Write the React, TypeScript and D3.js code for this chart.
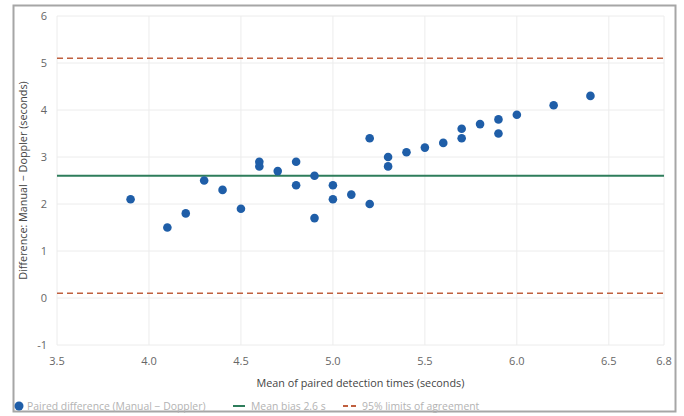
import React from 'react';
import * as d3 from 'd3';

// Bland-Altman: manual vs doppler detection times
const meanTimes = [3.9, 4.1, 4.2, 4.3, 4.4, 4.5, 4.6, 4.6, 4.7, 4.8, 4.8, 4.9, 4.9, 5.0, 5.0, 5.1, 5.2, 5.2, 5.3, 5.3, 5.4, 5.5, 5.6, 5.7, 5.7, 5.8, 5.9, 5.9, 6.0, 6.2, 6.4];
const differences = [2.1, 1.5, 1.8, 2.5, 2.3, 1.9, 2.9, 2.8, 2.7, 2.9, 2.4, 2.6, 1.7, 2.4, 2.1, 2.2, 3.4, 2.0, 3.0, 2.8, 3.1, 3.2, 3.3, 3.6, 3.4, 3.7, 3.8, 3.5, 3.9, 4.1, 4.3];
const meanBias = 2.6;
const limits = [0.1, 5.1];
const xTicks = [3.5, 4.0, 4.5, 5.0, 5.5, 6.0, 6.5, 6.8];
const yTicks = [-1, 0, 1, 2, 3, 4, 5, 6];

const W = 684;
const H = 416;
const font = '"Open Sans", "Noto Sans", sans-serif';

export default function App() {
  const x = d3.scaleLinear().domain([3.5, 6.8]).range([57, 664]);
  const y = d3.scaleLinear().domain([-1, 6]).range([345, 16]);

  return (
    <svg width={W} height={H} style={{ position: 'absolute', left: 0, top: 0 }} fontFamily={font}>
      <rect x={0} y={0} width={W} height={H} fill="#fff" />
      <rect x={13.5} y={5.5} width={662} height={406} fill="none" stroke="#a6a6a6" strokeWidth={2} />

      {/* grid */}
      {xTicks.map(t => (
        <line key={'gx' + t} x1={x(t)} x2={x(t)} y1={y(6)} y2={y(-1)} stroke="#ececec" />
      ))}
      {yTicks.map(t => (
        <line key={'gy' + t} x1={x(3.5)} x2={x(6.8)} y1={y(t)} y2={y(t)} stroke="#ececec" />
      ))}

      {/* tick labels */}
      {xTicks.map(t => (
        <text key={'tx' + t} x={x(t)} y={365} textAnchor="middle" fontSize={11} fill="#666">
          {t.toFixed(1)}
        </text>
      ))}
      {yTicks.map(t => (
        <text key={'ty' + t} x={47} y={y(t) + 4} textAnchor="end" fontSize={11} fill="#666">
          {t}
        </text>
      ))}

      {/* reference lines */}
      <line x1={x(3.5)} x2={x(6.8)} y1={y(meanBias)} y2={y(meanBias)} stroke="#2e7d5b" strokeWidth={2} />
      {limits.map(l => (
        <line key={'l' + l} x1={x(3.5)} x2={x(6.8)} y1={y(l)} y2={y(l)} stroke="#c0603f" strokeWidth={1.5} strokeDasharray="6,4" />
      ))}

      {/* points */}
      {meanTimes.map((m, i) => (
        <circle key={'p' + i} cx={x(m)} cy={y(differences[i])} r={4.3} fill="#1f5ea8" />
      ))}

      {/* axis titles */}
      <text x={(x(3.5) + x(6.8)) / 2} y={387} textAnchor="middle" fontSize={10.8} fill="#444">
        Mean of paired detection times (seconds)
      </text>
      <text transform={`translate(27,${(y(6) + y(-1)) / 2}) rotate(-90)`} textAnchor="middle" fontSize={10.8} fill="#444">
        Difference: Manual − Doppler (seconds)
      </text>

      {/* legend */}
      <circle cx={19} cy={406} r={4.5} fill="#1f5ea8" />
      <text x={27} y={410} fontSize={10.4} fill="#b3b3b3">Paired difference (Manual − Doppler)</text>
      <line x1={233} x2={245} y1={406} y2={406} stroke="#2e7d5b" strokeWidth={2} />
      <text x={251} y={410} fontSize={10.4} fill="#b3b3b3">Mean bias 2.6 s</text>
      <line x1={343} x2={356} y1={406} y2={406} stroke="#c0603f" strokeWidth={2} strokeDasharray="5,3" />
      <text x={362} y={410} fontSize={10.4} fill="#b3b3b3">95% limits of agreement</text>
    </svg>
  );
}
